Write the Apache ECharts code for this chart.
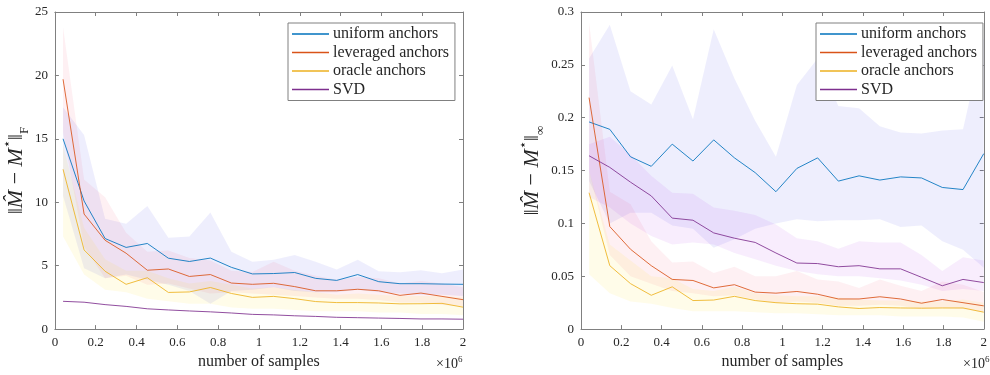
<!DOCTYPE html>
<html>
<head>
<meta charset="utf-8">
<script src="https://cdn.jsdelivr.net/npm/echarts@6/dist/echarts.min.js"></script>
<style>
  html, body { margin: 0; padding: 0; background: #fff; }
  #main { width: 990px; height: 375px; }
</style>
</head>
<body>
<div id="main"></div>
<script>
// number of samples (x 10^6)
const samples = [0.04, 0.143, 0.246, 0.349, 0.453, 0.556, 0.659, 0.762, 0.865, 0.968,
  1.072, 1.175, 1.278, 1.381, 1.484, 1.587, 1.691, 1.794, 1.897, 2.0];

// left panel: Frobenius error
const froUniform = [15.0, 10.1, 7.14, 6.44, 6.75, 5.59, 5.33, 5.6, 4.87, 4.35, 4.38, 4.46, 4.0, 3.84, 4.3, 3.74, 3.58, 3.58, 3.55, 3.53];
const froLeveraged = [19.7, 9.07, 7.0, 5.98, 4.64, 4.74, 4.15, 4.3, 3.63, 3.53, 3.61, 3.35, 3.02, 3.02, 3.14, 3.02, 2.66, 2.84, 2.58, 2.32];
const froOracle = [12.6, 6.24, 4.56, 3.53, 4.05, 2.89, 2.93, 3.28, 2.81, 2.5, 2.58, 2.4, 2.17, 2.09, 2.09, 2.06, 1.99, 2.0, 2.03, 1.73];
const froSvd = [2.19, 2.12, 1.93, 1.79, 1.6, 1.51, 1.43, 1.36, 1.27, 1.16, 1.12, 1.05, 1.0, 0.93, 0.9, 0.87, 0.84, 0.8, 0.8, 0.78];

const froUniformLo = [10.5, 4.8, 4.0, 4.3, 3.9, 3.5, 3.0, 2.0, 3.0, 3.1, 3.3, 3.0, 2.9, 2.9, 3.1, 2.9, 2.8, 2.7, 2.7, 2.6];
const froUniformHi = [17.5, 15.3, 8.7, 8.3, 9.7, 7.2, 7.3, 9.2, 6.1, 5.3, 5.46, 5.85, 5.3, 4.69, 5.46, 4.56, 4.48, 4.64, 4.4, 4.69];
const froLeveragedLo = [15.5, 6.5, 4.0, 4.2, 3.5, 3.6, 3.2, 2.8, 2.9, 2.8, 2.7, 2.6, 2.5, 2.4, 2.4, 2.3, 2.1, 2.1, 1.9, 1.8];
const froLeveragedHi = [23.8, 11.8, 10.4, 7.6, 6.1, 6.2, 5.6, 5.4, 4.6, 4.5, 5.3, 4.6, 4.2, 3.9, 4.1, 4.0, 3.6, 3.8, 3.6, 3.3];
const froOracleLo = [7.3, 4.3, 3.1, 2.9, 2.4, 2.2, 2.0, 2.0, 1.7, 1.6, 1.6, 1.5, 1.4, 1.4, 1.4, 1.3, 1.3, 1.2, 1.2, 1.1];
const froOracleHi = [14.5, 8.0, 5.5, 4.6, 4.6, 4.0, 3.6, 3.8, 3.5, 3.2, 3.3, 3.1, 2.9, 2.7, 2.8, 2.7, 2.6, 2.6, 2.6, 2.5];

// right panel: max-entry error
const maxUniform = [0.196, 0.189, 0.163, 0.154, 0.175, 0.159, 0.179, 0.162, 0.148, 0.130, 0.152, 0.162, 0.140, 0.145, 0.141, 0.144, 0.143, 0.134, 0.132, 0.166];
const maxLeveraged = [0.219, 0.097, 0.0755, 0.060, 0.047, 0.046, 0.039, 0.042, 0.035, 0.034, 0.0356, 0.033, 0.0285, 0.0285, 0.0306, 0.0285, 0.0245, 0.028, 0.025, 0.022];
const maxOracle = [0.129, 0.060, 0.043, 0.032, 0.040, 0.027, 0.0275, 0.031, 0.027, 0.025, 0.024, 0.0236, 0.021, 0.0195, 0.0204, 0.020, 0.0198, 0.020, 0.020, 0.016];
const maxSvd = [0.164, 0.153, 0.139, 0.126, 0.105, 0.103, 0.091, 0.086, 0.082, 0.072, 0.0625, 0.062, 0.059, 0.060, 0.057, 0.057, 0.049, 0.041, 0.047, 0.044];

const maxUniformLo = [0.14, 0.10, 0.11, 0.11, 0.098, 0.095, 0.077, 0.085, 0.095, 0.10, 0.104, 0.102, 0.103, 0.103, 0.104, 0.0965, 0.098, 0.083, 0.075, 0.058];
const maxUniformHi = [0.256, 0.288, 0.225, 0.2125, 0.2495, 0.1985, 0.2836, 0.237, 0.197, 0.163, 0.231, 0.256, 0.211, 0.209, 0.192, 0.186, 0.185, 0.188, 0.189, 0.276];
const maxLeveragedLo = [0.15, 0.07, 0.05, 0.043, 0.036, 0.034, 0.031, 0.032, 0.028, 0.025, 0.026, 0.025, 0.022, 0.022, 0.023, 0.022, 0.019, 0.02, 0.019, 0.016];
const maxLeveragedHi = [0.29, 0.13, 0.118, 0.083, 0.063, 0.064, 0.053, 0.059, 0.05, 0.05, 0.055, 0.047, 0.045, 0.039, 0.047, 0.041, 0.036, 0.045, 0.042, 0.035];
const maxOracleLo = [0.052, 0.034, 0.026, 0.024, 0.02, 0.017, 0.017, 0.017, 0.016, 0.015, 0.015, 0.014, 0.013, 0.013, 0.013, 0.012, 0.012, 0.012, 0.011, 0.007];
const maxOracleHi = [0.15, 0.08, 0.065, 0.05, 0.048, 0.038, 0.036, 0.04, 0.034, 0.032, 0.031, 0.031, 0.03, 0.028, 0.027, 0.027, 0.026, 0.026, 0.028, 0.025];
const maxSvdLo = [0.125, 0.115, 0.10, 0.088, 0.08, 0.082, 0.08, 0.072, 0.066, 0.06, 0.055, 0.052, 0.05, 0.05, 0.048, 0.046, 0.042, 0.036, 0.038, 0.036];
const maxSvdHi = [0.175, 0.182, 0.165, 0.145, 0.129, 0.128, 0.115, 0.112, 0.108, 0.099, 0.086, 0.083, 0.076, 0.083, 0.082, 0.082, 0.070, 0.055, 0.068, 0.065];

const names = ['uniform anchors', 'leveraged anchors', 'oracle anchors', 'SVD'];
const colors = ['#0072BD', '#D95319', '#EDB120', '#7E2F8E'];
const fills = ['rgba(0,0,230,0.065)', 'rgba(240,40,90,0.07)', 'rgba(255,225,0,0.085)', 'rgba(160,0,230,0.07)'];

const serif = 'Liberation Serif';
const axisGrey = '#808080';
const textDark = '#262626';

function line(k, ys, ax) {
  return {
    type: 'line', name: names[k], data: samples.map((x, i) => [x, ys[i]]),
    xAxisIndex: ax, yAxisIndex: ax,
    symbol: 'none', z: 3,
    lineStyle: {width: 1, color: colors[k], opacity: 0.85},
    itemStyle: {color: colors[k]}
  };
}

// shaded spread: one polygon through hi (left to right) and lo (right to left)
function band(k, lo, hi, ax) {
  return {
    type: 'custom', coordinateSystem: 'cartesian2d',
    xAxisIndex: ax, yAxisIndex: ax, silent: true, z: 1,
    data: samples.map((x, i) => [x, lo[i], hi[i]]),
    encode: {x: 0, y: [1, 2]},
    renderItem: function (params, api) {
      if (params.dataIndex !== 0) return null;
      const pts = [];
      for (let i = 0; i < samples.length; i++) pts.push(api.coord([samples[i], hi[i]]));
      for (let i = samples.length - 1; i >= 0; i--) pts.push(api.coord([samples[i], lo[i]]));
      return {type: 'polygon', shape: {points: pts}, style: {fill: fills[k], stroke: null}};
    }
  };
}

function xAx(grid, pos, showName) {
  return {
    type: 'value', gridIndex: grid, position: pos, min: 0, max: 2, interval: 0.2,
    name: showName ? 'number of samples' : '', nameLocation: 'middle', nameGap: 21,
    nameTextStyle: {fontFamily: serif, fontSize: 16, color: textDark},
    axisLine: {show: true, onZero: false, lineStyle: {color: axisGrey, width: 1}},
    axisTick: {show: true, inside: true, length: 4, lineStyle: {color: axisGrey}},
    axisLabel: {show: pos === 'bottom', fontFamily: serif, fontSize: 13, color: textDark, margin: 7},
    splitLine: {show: false}
  };
}

function yAx(grid, pos, max, interval, name) {
  return {
    type: 'value', gridIndex: grid, position: pos, min: 0, max: max, interval: interval,
    name: name, nameLocation: 'middle', nameGap: 20, nameRotate: 90,
    nameTextStyle: {color: textDark, rich: nameRich},
    axisLine: {show: true, onZero: false, lineStyle: {color: axisGrey, width: 1}},
    axisTick: {show: true, inside: true, length: 4, lineStyle: {color: axisGrey}},
    axisLabel: {show: pos === 'left', fontFamily: serif, fontSize: 13, color: textDark, margin: 7},
    splitLine: {show: false}
  };
}

const nameRich = {
  n: {fontFamily: serif, fontSize: 22, color: textDark, lineHeight: 30},
  i: {fontFamily: serif, fontStyle: 'italic', fontSize: 22, color: textDark, lineHeight: 30},
  sup: {fontFamily: serif, fontSize: 13, color: textDark, verticalAlign: 'top', lineHeight: 30},
  sub: {fontFamily: serif, fontSize: 13, color: textDark, verticalAlign: 'bottom', lineHeight: 22}
};

function legendFor(left) {
  return {
    data: names, orient: 'vertical', left: left, top: 23,
    backgroundColor: '#fff', borderColor: axisGrey, borderWidth: 1,
    padding: [3, 6, 3, 4], itemGap: 2.5, itemWidth: 37, itemHeight: 1.5,
    icon: 'rect',
    textStyle: {fontFamily: serif, fontSize: 16, color: textDark, lineHeight: 16, padding: [0, 0, 0, -1]}
  };
}

const exponentRich = {
  a: {fontFamily: serif, fontSize: 14, fill: textDark, lineHeight: 18},
  s: {fontFamily: serif, fontSize: 9, fill: textDark, verticalAlign: 'top', lineHeight: 18}
};

const series = [];
[[froUniformLo, froUniformHi], [froLeveragedLo, froLeveragedHi], [froOracleLo, froOracleHi]]
  .forEach((b, k) => series.push(band(k, b[0], b[1], 0)));
[[maxUniformLo, maxUniformHi], [maxLeveragedLo, maxLeveragedHi], [maxOracleLo, maxOracleHi], [maxSvdLo, maxSvdHi]]
  .forEach((b, k) => series.push(band(k, b[0], b[1], 2)));
[froUniform, froLeveraged, froOracle, froSvd].forEach((ys, k) => series.push(line(k, ys, 0)));
[maxUniform, maxLeveraged, maxOracle, maxSvd].forEach((ys, k) => series.push(line(k, ys, 2)));

const chart = echarts.init(document.getElementById('main'));
chart.setOption({
  animation: false,
  backgroundColor: '#fff',
  grid: [
    {left: 53, top: 12, width: 410, height: 324},
    {left: 581, top: 12, width: 407, height: 324}
  ],
  xAxis: [xAx(0, 'bottom', true), xAx(0, 'top', false), xAx(1, 'bottom', true), xAx(1, 'top', false)],
  yAxis: [
    yAx(0, 'left', 25, 5, '{n|‖}{i|M̂}{n| − }{i|M}{sup|⋆}{n|‖}{sub|F}'),
    yAx(0, 'right', 25, 5, ''),
    yAx(1, 'left', 0.3, 0.05, '{n|‖}{i|M̂}{n| − }{i|M}{sup|⋆}{n|‖}{sub|∞}'),
    yAx(1, 'right', 0.3, 0.05, '')
  ],
  legend: [legendFor(288), legendFor(816)],
  graphic: [
    {type: 'text', left: 436, top: 355, style: {text: '{a|×10}{s|6}', rich: exponentRich}},
    {type: 'text', left: 963, top: 355, style: {text: '{a|×10}{s|6}', rich: exponentRich}}
  ],
  series: series
});
</script>
</body>
</html>
